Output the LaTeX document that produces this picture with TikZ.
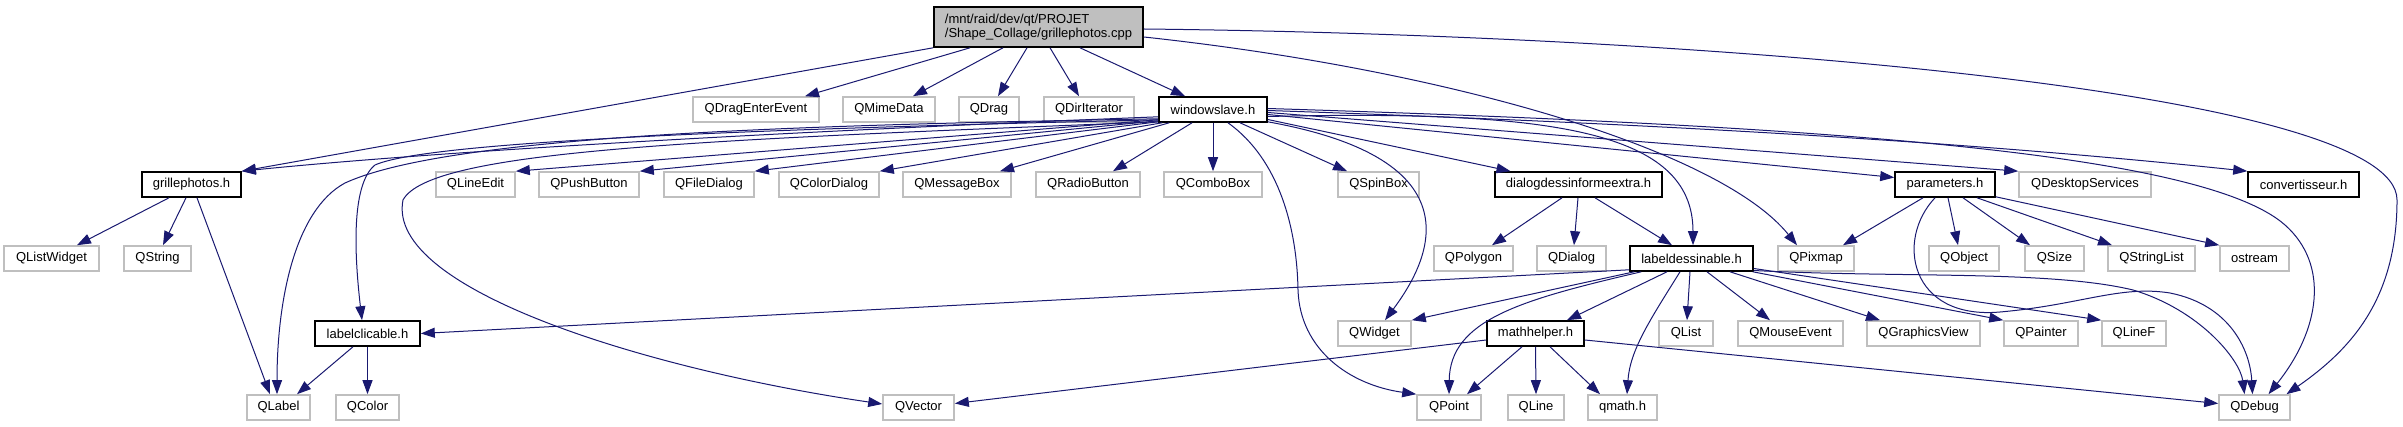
\documentclass[tikz,border=0pt]{standalone}
\usepackage{fontspec}
\setmainfont{Liberation Sans}
\usetikzlibrary{arrows.meta,calc}
\definecolor{extgray}{HTML}{BFBFBF}
\definecolor{mainfill}{HTML}{BFBFBF}
\definecolor{edgeblue}{HTML}{191970}
\tikzset{
  nd/.style={draw=black, line width=1.6pt, minimum height=25pt, inner sep=0pt, font=\fontsize{13pt}{14pt}\selectfont},
  ext/.style={nd, draw=extgray},
  mainn/.style={nd, fill=mainfill, align=left, inner xsep=11pt, minimum height=40pt},
  e/.style={draw=edgeblue, line width=1.0pt, -{Triangle[length=14pt,width=10pt]}},
}
\begin{document}
\begin{tikzpicture}[x=1pt,y=-1pt]
\useasboundingbox (0,0) rectangle (2403,427);
% row 0
\node[mainn, minimum width=209pt] (main) at (1038.5,27) {/mnt/raid/dev/qt/PROJET\\/Shape\_Collage/grillephotos.cpp};
% row 1
\node[ext, minimum width=126pt] (qdee) at (756,109.5) {QDragEnterEvent};
\node[ext, minimum width=92pt] (qmime) at (889,109.5) {QMimeData};
\node[ext, minimum width=60pt] (qdrag) at (989,109.5) {QDrag};
\node[ext, minimum width=90pt] (qdir) at (1089,109.5) {QDirIterator};
\node[nd, minimum width=108pt] (ws) at (1213,109.5) {windowslave.h};
% row 2
\node[nd, minimum width=99pt] (gp) at (191.5,184.5) {grillephotos.h};
\node[ext, minimum width=79pt] (qle) at (475.5,184.5) {QLineEdit};
\node[ext, minimum width=100pt] (qpb) at (589,184.5) {QPushButton};
\node[ext, minimum width=90pt] (qfd) at (709,184.5) {QFileDialog};
\node[ext, minimum width=100pt] (qcd) at (829,184.5) {QColorDialog};
\node[ext, minimum width=108pt] (qmb) at (957,184.5) {QMessageBox};
\node[ext, minimum width=104pt] (qrb) at (1088,184.5) {QRadioButton};
\node[ext, minimum width=98pt] (qcb) at (1213,184.5) {QComboBox};
\node[ext, minimum width=81pt] (qsb) at (1378.5,184.5) {QSpinBox};
\node[nd, minimum width=167pt] (dde) at (1578.5,184.5) {dialogdessinformeextra.h};
\node[nd, minimum width=100pt] (par) at (1945,184.5) {parameters.h};
\node[ext, minimum width=132pt] (qds) at (2085,184.5) {QDesktopServices};
\node[nd, minimum width=111pt] (conv) at (2303.5,184.5) {convertisseur.h};
% row 3
\node[ext, minimum width=95pt] (qlw) at (51.5,258.5) {QListWidget};
\node[ext, minimum width=67pt] (qstr) at (157.5,258.5) {QString};
\node[ext, minimum width=79pt] (qpoly) at (1473.5,258.5) {QPolygon};
\node[ext, minimum width=69pt] (qdlg) at (1571.5,258.5) {QDialog};
\node[nd, minimum width=123pt] (ld) at (1691.5,258.5) {labeldessinable.h};
\node[ext, minimum width=76pt] (qpix) at (1816,258.5) {QPixmap};
\node[ext, minimum width=70pt] (qobj) at (1964,258.5) {QObject};
\node[ext, minimum width=59pt] (qsize) at (2054.5,258.5) {QSize};
\node[ext, minimum width=87pt] (qsl) at (2151.5,258.5) {QStringList};
\node[ext, minimum width=69pt] (ostr) at (2254.5,258.5) {ostream};
% row 4
\node[nd, minimum width=105pt] (lc) at (367.5,333.5) {labelclicable.h};
\node[ext, minimum width=73pt] (qwid) at (1374.5,333.5) {QWidget};
\node[nd, minimum width=97pt] (mh) at (1535.5,333.5) {mathhelper.h};
\node[ext, minimum width=54pt] (qlist) at (1686,333.5) {QList};
\node[ext, minimum width=105pt] (qme) at (1790.5,333.5) {QMouseEvent};
\node[ext, minimum width=113pt] (qgv) at (1923.5,333.5) {QGraphicsView};
\node[ext, minimum width=74pt] (qpaint) at (2041,333.5) {QPainter};
\node[ext, minimum width=64pt] (qlf) at (2134,333.5) {QLineF};
% row 5
\node[ext, minimum width=63pt] (qlab) at (278.5,407.5) {QLabel};
\node[ext, minimum width=63pt] (qcol) at (367.5,407.5) {QColor};
\node[ext, minimum width=71pt] (qvec) at (918.5,407.5) {QVector};
\node[ext, minimum width=64pt] (qpt) at (1449,407.5) {QPoint};
\node[ext, minimum width=56pt] (qline) at (1536,407.5) {QLine};
\node[ext, minimum width=69pt] (qmath) at (1622.5,407.5) {qmath.h};
\node[ext, minimum width=71pt] (qdbg) at (2254.5,407.5) {QDebug};

% ---- edges from main
\draw[e] (main.south west) -- (gp.north east);
\draw[e] ($(main.south)+(-68.5,0)$) -- ($(qdee.north)+(49,0)$);
\draw[e] ($(main.south)+(-35.5,0)$) -- ($(qmime.north)+(24,0)$);
\draw[e] ($(main.south)+(-11.5,0)$) -- ($(qdrag.north)+(9,0)$);
\draw[e] ($(main.south)+(11.5,0)$) -- ($(qdir.north)+(-10,0)$);
\draw[e] ($(main.south)+(41.5,0)$) -- ($(ws.north)+(-28,0)$);
\draw[e] ($(main.east)+(0,10)$) .. controls (1450,70) and (1720,150) .. ($(qpix.north)+(-19,0)$);
\draw[e] ($(main.east)+(0,2)$) .. controls (1700,35) and (2397,90) .. (2397,200) .. controls (2397,300) and (2350,350) .. ($(qdbg.north)+(32,0)$);

% ---- edges from windowslave.h
\draw[e] ($(ws.south west)+(0,-6)$) .. controls (700,135) and (400,155) .. (gp.north east);
\draw[e] ($(ws.south west)+(0,-3)$) -- (qle.north east);
\draw[e] ($(ws.south west)+(0,-2)$) -- (qpb.north east);
\draw[e] ($(ws.south west)+(0,-1)$) -- (qfd.north east);
\draw[e] ($(ws.south west)+(4,0)$) -- (qcd.north east);
\draw[e] ($(ws.south west)+(11,0)$) -- ($(qmb.north)+(43,0)$);
\draw[e] ($(ws.south)+(-21,0)$) -- ($(qrb.north)+(25,0)$);
\draw[e] (ws.south) -- (qcb.north);
\draw[e] ($(ws.south)+(27,0)$) -- ($(qsb.north)+(-31.5,0)$);
\draw[e] ($(ws.south west)+(0,-4)$) .. controls (800,125) and (450,135) .. (345,183) .. controls (295,210) and (277,300) .. ($(qlab.north)+(-1.5,0)$);
\draw[e] ($(ws.south west)+(0,-3)$) .. controls (800,128) and (430,140) .. (375,165) .. controls (350,185) and (355,260) .. ($(lc.north)+(-5.5,0)$);
\draw[e] ($(ws.south west)+(0,-1)$) .. controls (700,140) and (430,150) .. (403,200) .. controls (385,290) and (650,370) .. ($(qvec.west)+(0,-3.5)$);
\draw[e] ($(ws.south)+(15,0)$) .. controls (1280,160) and (1297,230) .. (1298,290) .. controls (1300,350) and (1350,385) .. (qpt.north west);
\draw[e] ($(ws.south east)+(0,-1)$) .. controls (1480,160) and (1430,260) .. ($(qwid.north)+(10.5,0)$);
\draw[e] ($(ws.east)+(0,10)$) -- ($(dde.north)+(-68,0)$);
\draw[e] ($(ws.east)+(0,7)$) .. controls (1550,110) and (1693,130) .. ($(ld.north)+(1.5,0)$);
\draw[e] ($(ws.east)+(0,5)$) -- ($(par.west)+(0,-7)$);
\draw[e] ($(ws.east)+(0,3)$) -- (qds.north west);
\draw[e] ($(ws.east)+(0,1)$) .. controls (1700,125) and (2000,145) .. (conv.north west);
\draw[e] ($(ws.east)+(0,-1)$) .. controls (1800,125) and (2200,150) .. (2285,225) .. controls (2330,265) and (2320,330) .. ($(qdbg.north)+(14,0)$);

% ---- grillephotos.h
\draw[e] ($(gp.south)+(-22.5,0)$) -- ($(qlw.north)+(25.5,0)$);
\draw[e] ($(gp.south)+(-5.5,0)$) -- ($(qstr.north)+(5.5,0)$);
\draw[e] ($(gp.south)+(5.5,0)$) -- ($(qlab.north)+(-8.5,0)$);

% ---- dialogdessinformeextra.h
\draw[e] ($(dde.south)+(-16.5,0)$) -- ($(qpoly.north)+(18.5,0)$);
\draw[e] ($(dde.south)+(-0.5,0)$) -- ($(qdlg.north)+(2.5,0)$);
\draw[e] ($(dde.south)+(16.5,0)$) -- ($(ld.north)+(-19.5,0)$);

% ---- parameters.h
\draw[e] ($(par.south)+(-22,0)$) -- ($(qpix.north)+(27,0)$);
\draw[e] ($(par.south)+(3,0)$) -- ($(qobj.north)+(-6,0)$);
\draw[e] ($(par.south)+(18,0)$) -- ($(qsize.north)+(-24.5,0)$);
\draw[e] ($(par.south)+(32,0)$) -- ($(qsl.north)+(-39.5,0)$);
\draw[e] ($(par.south east)+(0,-1)$) -- (ostr.north west);
\draw[e] ($(par.south)+(-10,0)$) .. controls (1895,240) and (1910,320) .. (2000,312) .. controls (2080,305) and (2120,285) .. (2170,293) .. controls (2230,305) and (2250,350) .. ($(qdbg.north)+(-2,0)$);

% ---- labeldessinable.h
\draw[e] ($(ld.south west)+(0,-2)$) -- (lc.east);
\draw[e] ($(ld.south west)+(5,0)$) -- (qwid.north east);
\draw[e] ($(ld.south west)+(12,0)$) .. controls (1520,300) and (1450,320) .. (qpt.north);
\draw[e] ($(ld.south)+(-24.5,0)$) -- ($(mh.north)+(31.5,0)$);
\draw[e] ($(ld.south)+(-11.5,0)$) .. controls (1650,320) and (1630,350) .. ($(qmath.north)+(4.5,0)$);
\draw[e] ($(ld.south)+(-1.5,0)$) -- ($(qlist.north)+(1,0)$);
\draw[e] ($(ld.south)+(15.5,0)$) -- ($(qme.north)+(-20.5,0)$);
\draw[e] ($(ld.south)+(38.5,0)$) -- ($(qgv.north)+(-43.5,0)$);
\draw[e] ($(ld.south east)+(-1,0)$) -- (qpaint.north west);
\draw[e] ($(ld.east)+(0,10)$) -- (qlf.north west);
\draw[e] ($(ld.east)+(0,12)$) .. controls (1900,278) and (2050,270) .. (2133,290) .. controls (2200,310) and (2240,360) .. ($(qdbg.north)+(-10,0)$);

% ---- labelclicable.h
\draw[e] ($(lc.south)+(-14.5,0)$) -- ($(qlab.north)+(18.5,0)$);
\draw[e] (lc.south) -- (qcol.north);

% ---- mathhelper.h
\draw[e] ($(mh.west)+(0,6.5)$) -- ($(qvec.east)+(0,-4)$);
\draw[e] ($(mh.south)+(-13.5,0)$) -- ($(qpt.north)+(18,0)$);
\draw[e] (mh.south) -- (qline.north);
\draw[e] ($(mh.south)+(14.5,0)$) -- ($(qmath.north)+(-22.5,0)$);
\draw[e] ($(mh.east)+(0,6.5)$) -- ($(qdbg.west)+(0,-4)$);
\end{tikzpicture}
\end{document}
